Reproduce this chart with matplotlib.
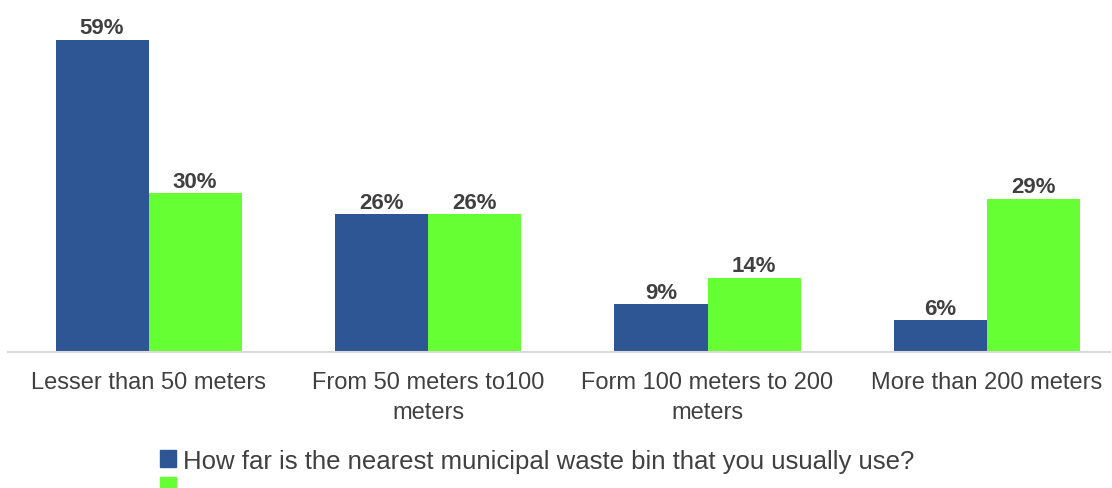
import numpy as np
import matplotlib.pyplot as plt
from matplotlib.patches import Patch

plt.rcParams['font.family'] = ['Liberation Sans', 'DejaVu Sans']

categories = ['Lesser than 50 meters', 'From 50 meters to100\nmeters',
              'Form 100 meters to 200\nmeters', 'More than 200 meters']
series_a = [59, 26, 9, 6]
series_b = [30, 26, 14, 29]
series_a_name = 'How far is the nearest municipal waste bin that you usually use?'
series_b_name = ''

blue = '#2E5594'
green = '#66FF33'
text_col = '#404040'

fig = plt.figure(figsize=(11.12, 4.89), dpi=100)
ax = fig.add_axes([8 / 1112, 136 / 489, 1102 / 1112, 353 / 489])

x = np.arange(len(categories))
w = 0.333
bars_a = ax.bar(x - w / 2, series_a, w, color=blue)
bars_b = ax.bar(x + w / 2, series_b, w, color=green)

for bars, vals in ((bars_a, series_a), (bars_b, series_b)):
    for b, v in zip(bars, vals):
        ax.text(b.get_x() + b.get_width() / 2, v + 0.3, f'{v}%',
                ha='center', va='bottom', fontsize=16, color=text_col,
                fontweight='bold')

ax.set_xlim(-0.503, 3.44)
ax.set_ylim(0, 66.7)
ax.set_xticks(x)
ax.set_xticklabels(categories, fontsize=17, color=text_col, linespacing=1.45)
ax.tick_params(axis='x', length=0, pad=14)
ax.set_yticks([])
for s in ('top', 'right', 'left'):
    ax.spines[s].set_visible(False)
ax.spines['bottom'].set_color('#D9D9D9')
ax.spines['bottom'].set_linewidth(1.5)

handles = [Patch(color=blue), Patch(color=green)]
fig.legend(handles, [series_a_name, series_b_name], loc='upper left',
           bbox_to_anchor=(157 / 1112, 1 - 447 / 489), frameon=False,
           fontsize=18.5, labelcolor=text_col, handlelength=0.62,
           handleheight=0.62, handletextpad=0.3, labelspacing=0.1,
           borderpad=0.1, borderaxespad=0)

fig.savefig('out.png', dpi=100)
